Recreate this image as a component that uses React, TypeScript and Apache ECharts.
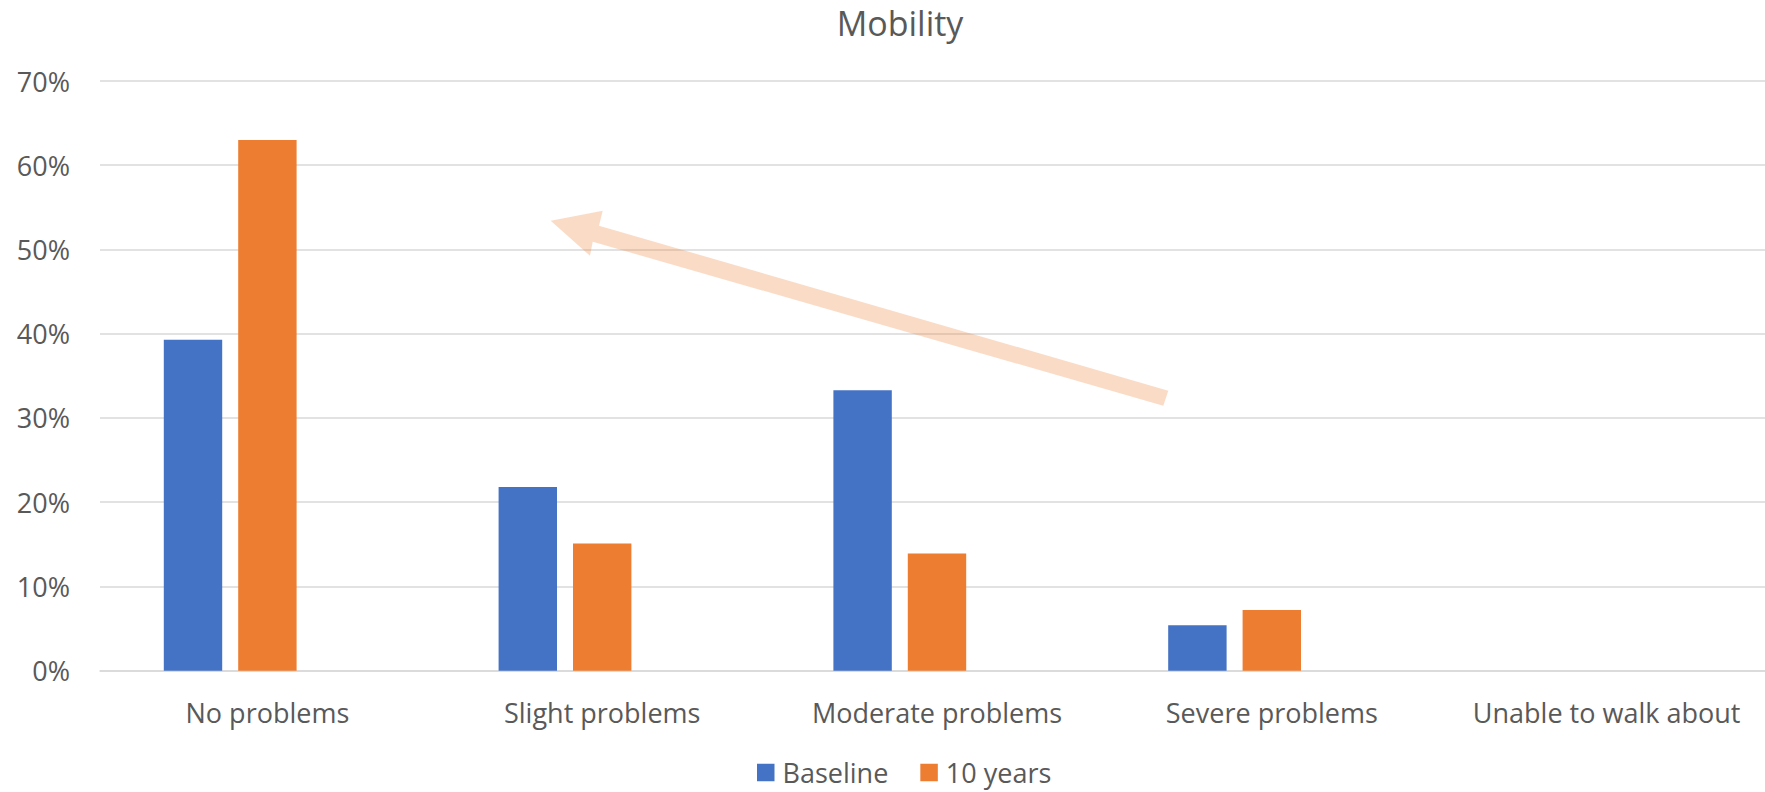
import React, { useEffect, useRef } from "react";
import * as echarts from "echarts";

const categories = ["No problems", "Slight problems", "Moderate problems", "Severe problems", "Unable to walk about"];
const baseline = [0.393, 0.218, 0.333, 0.054, 0];
const tenYears = [0.63, 0.151, 0.139, 0.072, 0];
const emptySeries = [null, null, null, null, null];
const yTicks = { min: 0, max: 0.7, interval: 0.1 };
const titleText = "Mobility";
const legendNames = ["Baseline", "10 years"];

const FONT = "Open Sans";
const TEXT_COLOR = "#595959";
const GRID_COLOR = "#D9D9D9";

export default function App() {
  const ref = useRef<HTMLDivElement>(null);

  useEffect(() => {
    if (!ref.current) return;
    const chart = echarts.init(ref.current, undefined, { renderer: "svg" });
    const barCommon = { barWidth: 58.4, barGap: "27.4%" };
    chart.setOption({
      animation: false,
      backgroundColor: "#ffffff",
      textStyle: { fontFamily: FONT },
      title: {
        text: titleText,
        left: 900,
        top: 6,
        padding: 0,
        textAlign: "center",
        textStyle: { fontFamily: FONT, fontSize: 34, lineHeight: 34, fontWeight: "normal", color: TEXT_COLOR },
      },
      legend: {
        data: legendNames,
        left: 757,
        top: 759,
        padding: 0,
        itemWidth: 17.5,
        itemHeight: 17.5,
        itemGap: 32,
        icon: "rect",
        textStyle: { fontFamily: FONT, fontSize: 27, color: TEXT_COLOR, padding: [0, 0, 0, 3] },
      },
      grid: { left: 100, top: 81, width: 1674, height: 589.7, containLabel: false },
      xAxis: {
        type: "category",
        data: categories,
        axisTick: { show: false },
        axisLine: { lineStyle: { color: GRID_COLOR, width: 1.5 } },
        axisLabel: { fontFamily: FONT, fontSize: 27, color: TEXT_COLOR, margin: 28, interval: 0 },
      },
      yAxis: {
        type: "value",
        min: yTicks.min,
        max: yTicks.max,
        interval: yTicks.interval,
        axisLine: { show: false },
        axisTick: { show: false },
        splitLine: { lineStyle: { color: GRID_COLOR, width: 1.5 } },
        axisLabel: {
          fontFamily: FONT,
          fontSize: 27,
          color: TEXT_COLOR,
          margin: 30,
          formatter: (v: number) => `${Math.round(v * 100)}%`,
        },
      },
      series: [
        { name: legendNames[0], type: "bar", data: baseline, itemStyle: { color: "#4472C4" }, ...barCommon },
        { name: legendNames[1], type: "bar", data: tenYears, itemStyle: { color: "#ED7D31" }, ...barCommon },
        { name: "", type: "bar", data: emptySeries, itemStyle: { color: "#A5A5A5" }, ...barCommon },
      ],
      graphic: [
        {
          type: "polygon",
          z: 100,
          shape: {
            points: [
              [550.7, 220.7],
              [602.7, 210.7],
              [599, 225.7],
              [1168.3, 390.7],
              [1163.3, 405.7],
              [592.7, 241.7],
              [590, 255.7],
            ],
          },
          style: { fill: "rgba(237,125,49,0.28)" },
        },
      ],
    });
    return () => chart.dispose();
  }, []);

  return (
    <div style={{ position: "fixed", left: 0, top: 0, width: 1765, height: 792, overflow: "hidden", background: "#fff" }}>
      <div ref={ref} style={{ position: "absolute", left: 0, top: 0, width: 1780, height: 792 }} />
    </div>
  );
}
